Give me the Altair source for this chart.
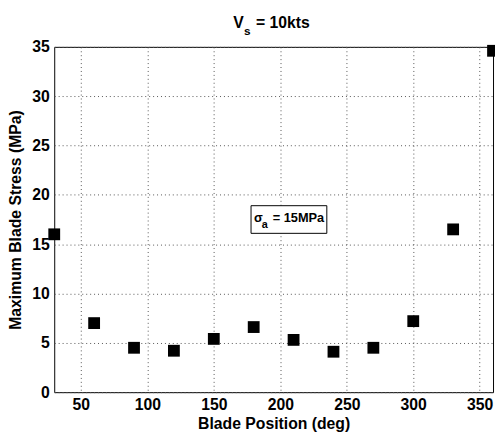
import altair as alt
import pandas as pd

positions = [30, 60, 90, 120, 150, 180, 210, 240, 270, 300, 330, 360]
stress = [16.0, 7.0, 4.5, 4.2, 5.4, 6.6, 5.3, 4.1, 4.5, 7.2, 16.5, 34.6]

box_x = [178, 235]
box_y = [16.1, 18.9]
note_main = "= 15MPa"

df = pd.DataFrame({"pos": positions, "stress": stress})
FONT = "Liberation Sans"

xs = alt.Scale(domain=[30, 360], nice=False, zero=False)
ys = alt.Scale(domain=[0, 35], nice=False)

xax = alt.Axis(values=[50, 100, 150, 200, 250, 300, 350], title="Blade Position (deg)",
               grid=True, gridDash=[1, 3], gridColor="#555", gridOpacity=1,
               ticks=False, labelFont=FONT, labelFontSize=16, labelFontWeight="bold",
               labelColor="black", titleFont=FONT, titleFontSize=16, titleFontWeight="bold",
               titleColor="black", domain=False, labelPadding=5, titlePadding=3)
yax = alt.Axis(values=[0, 5, 10, 15, 20, 25, 30, 35], title="Maximum Blade Stress (MPa)",
               grid=True, gridDash=[1, 3], gridColor="#555", gridOpacity=1,
               ticks=False, labelFont=FONT, labelFontSize=16, labelFontWeight="bold",
               labelColor="black", titleFont=FONT, titleFontSize=16, titleFontWeight="bold",
               titleColor="black", domain=False, labelPadding=5, titlePadding=8)

points = alt.Chart(df).mark_point(shape="square", filled=True, size=144, color="black",
                                  opacity=1, clip=False).encode(
    x=alt.X("pos:Q", scale=xs, axis=xax),
    y=alt.Y("stress:Q", scale=ys, axis=yax),
)

boxdf = pd.DataFrame({"x1": [box_x[0]], "x2": [box_x[1]], "y1": [box_y[0]], "y2": [box_y[1]]})
box = alt.Chart(boxdf).mark_rect(fill="white", stroke="black", strokeWidth=1).encode(
    x=alt.X("x1:Q", scale=xs), x2="x2:Q", y=alt.Y("y1:Q", scale=ys), y2="y2:Q")

notedf = pd.DataFrame({"x": [box_x[0]], "y": [(box_y[0] + box_y[1]) / 2]})
sigma = alt.Chart(notedf).mark_text(text="σ", font=FONT, fontSize=13, fontWeight="bold",
                                    align="left", baseline="alphabetic", dy=3, dx=3, color="black").encode(
    x=alt.X("x:Q", scale=xs), y=alt.Y("y:Q", scale=ys))
sub_a = alt.Chart(notedf).mark_text(text="a", font=FONT, fontSize=11, fontWeight="bold",
                                    align="left", baseline="alphabetic", dy=9, dx=11, color="black").encode(
    x=alt.X("x:Q", scale=xs), y=alt.Y("y:Q", scale=ys))
main = alt.Chart(notedf).mark_text(text=note_main, font=FONT, fontSize=13, fontWeight="bold",
                                   align="left", baseline="alphabetic", dy=3, dx=22, color="black").encode(
    x=alt.X("x:Q", scale=xs), y=alt.Y("y:Q", scale=ys))

tdf = pd.DataFrame({"k": [0]})
t1 = alt.Chart(tdf).mark_text(text="V", font=FONT, fontSize=16, fontWeight="bold",
                              align="left", baseline="alphabetic", color="black").encode(
    x=alt.value(182), y=alt.value(-19))
t2 = alt.Chart(tdf).mark_text(text="s", font=FONT, fontSize=12, fontWeight="bold",
                              align="left", baseline="alphabetic", color="black").encode(
    x=alt.value(193), y=alt.value(-12))
t3 = alt.Chart(tdf).mark_text(text="= 10kts", font=FONT, fontSize=16, fontWeight="bold",
                              align="left", baseline="alphabetic", color="black").encode(
    x=alt.value(205), y=alt.value(-19))

chart = alt.layer(box, sigma, sub_a, main, points, t1, t2, t3).properties(
    width=446, height=351,
    autosize=alt.AutoSizeParams(type="none"),
    padding={"left": 47, "top": 36, "right": 2, "bottom": 38},
    background="white",
).configure_view(stroke="black", strokeWidth=1)

chart.save("out.html", embed_options={"renderer": "svg", "actions": False})
